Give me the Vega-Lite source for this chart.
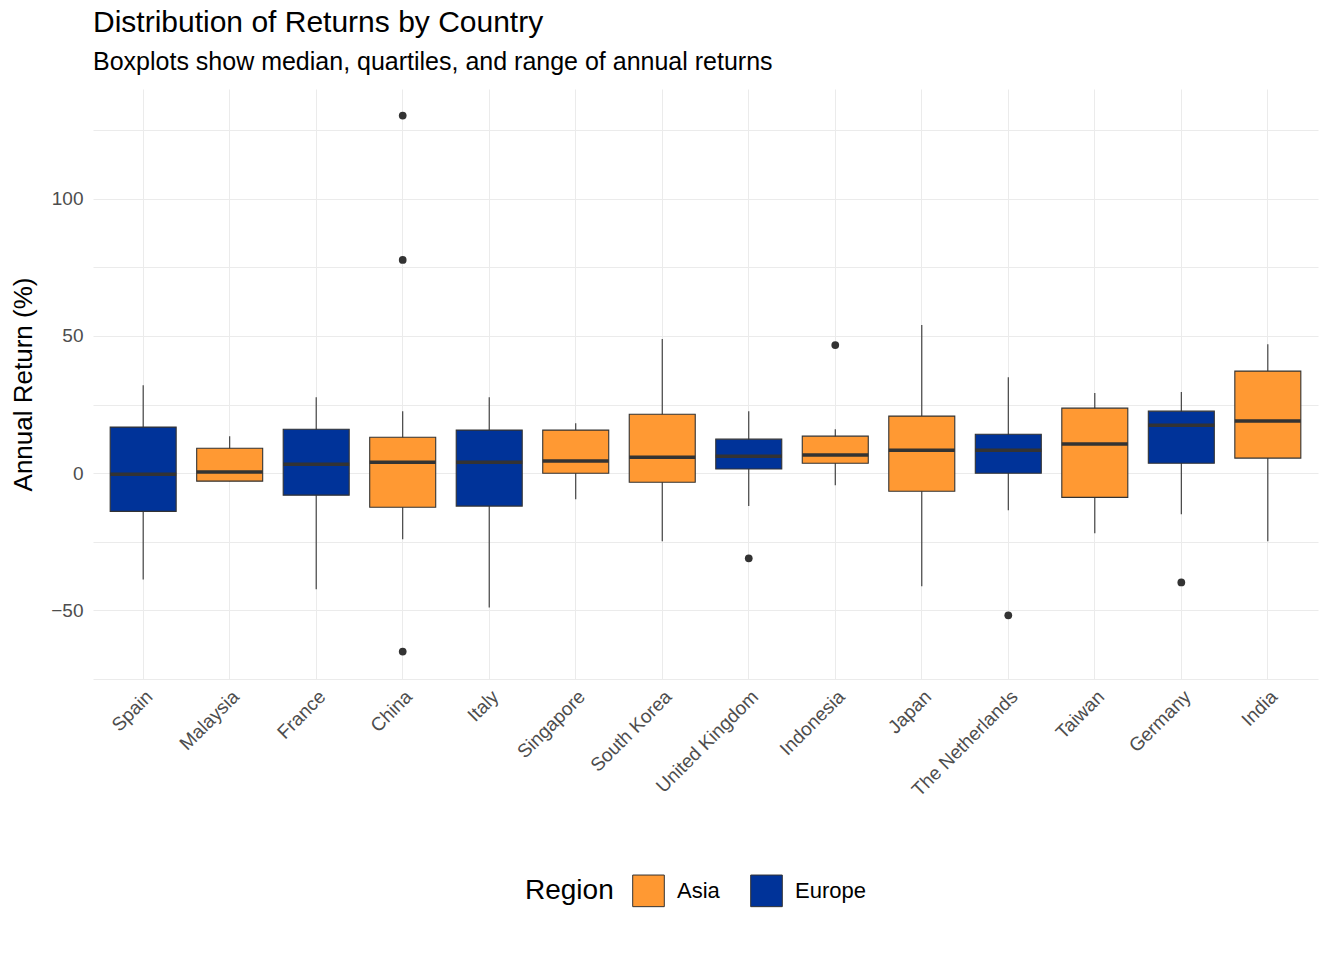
{
  "$schema": "https://vega.github.io/schema/vega-lite/v6.json",
  "width": 1225,
  "height": 590,
  "padding": {"left": 10, "top": 8, "right": 14, "bottom": 10},
  "background": "white",
  "config": {
    "font": "Liberation Sans",
    "view": {"stroke": null},
    "axis": {"domain": false, "ticks": false, "gridColor": "#EBEBEB", "labelColor": "#4D4D4D", "labelFontSize": 19, "titleFontWeight": "normal", "titleColor": "black", "titleFontSize": 26}
  },
  "title": {
    "text": "Distribution of Returns by Country",
    "subtitle": "Boxplots show median, quartiles, and range of annual returns",
    "anchor": "start", "frame": "group", "fontSize": 30, "fontWeight": "normal",
    "subtitleFontSize": 25, "subtitleColor": "black", "subtitlePadding": 12, "offset": 14
  },
  "datasets": {
    "stats": [
      {"country": "Spain", "region": "Europe", "lo": -38.7, "q1": -13.9, "med": -0.4, "q3": 16.8, "hi": 32},
      {"country": "Malaysia", "region": "Asia", "lo": -2.9, "q1": -2.9, "med": 0.4, "q3": 9.1, "hi": 13.5},
      {"country": "France", "region": "Europe", "lo": -42.3, "q1": -8, "med": 3.3, "q3": 16, "hi": 27.7},
      {"country": "China", "region": "Asia", "lo": -24.1, "q1": -12.4, "med": 4, "q3": 13.1, "hi": 22.6},
      {"country": "Italy", "region": "Europe", "lo": -48.9, "q1": -12, "med": 4, "q3": 15.7, "hi": 27.7},
      {"country": "Singapore", "region": "Asia", "lo": -9.5, "q1": 0, "med": 4.4, "q3": 15.7, "hi": 18.2},
      {"country": "South Korea", "region": "Asia", "lo": -24.8, "q1": -3.3, "med": 5.8, "q3": 21.5, "hi": 48.9},
      {"country": "United Kingdom", "region": "Europe", "lo": -12, "q1": 1.5, "med": 6.2, "q3": 12.4, "hi": 22.6},
      {"country": "Indonesia", "region": "Asia", "lo": -4.4, "q1": 3.6, "med": 6.6, "q3": 13.5, "hi": 16},
      {"country": "Japan", "region": "Asia", "lo": -41.2, "q1": -6.6, "med": 8.4, "q3": 20.8, "hi": 54},
      {"country": "The Netherlands", "region": "Europe", "lo": -13.5, "q1": 0, "med": 8.4, "q3": 14.2, "hi": 35},
      {"country": "Taiwan", "region": "Asia", "lo": -21.9, "q1": -8.8, "med": 10.6, "q3": 23.7, "hi": 29.2},
      {"country": "Germany", "region": "Europe", "lo": -15, "q1": 3.6, "med": 17.5, "q3": 22.6, "hi": 29.6},
      {"country": "India", "region": "Asia", "lo": -24.8, "q1": 5.5, "med": 19, "q3": 37.2, "hi": 47}
    ],
    "outliers": [
      {"country": "China", "value": 130.3},
      {"country": "China", "value": 77.7},
      {"country": "China", "value": -65},
      {"country": "United Kingdom", "value": -31},
      {"country": "Indonesia", "value": 46.7},
      {"country": "The Netherlands", "value": -51.8},
      {"country": "Germany", "value": -39.8}
    ]
  },
  "encoding": {
    "x": {
      "field": "country", "type": "nominal", "title": null,
      "sort": ["Spain", "Malaysia", "France", "China", "Italy", "Singapore", "South Korea", "United Kingdom", "Indonesia", "Japan", "The Netherlands", "Taiwan", "Germany", "India"],
      "scale": {"paddingInner": 0, "paddingOuter": 0.08},
      "axis": {"labelAngle": -45, "grid": true, "bandPosition": 0.5, "labelPadding": 8}
    }
  },
  "layer": [
    {
      "data": {"name": "stats"},
      "mark": {"type": "rule", "color": "#333333", "strokeWidth": 1.1},
      "encoding": {
        "y": {"field": "lo", "type": "quantitative", "title": "Annual Return (%)",
          "scale": {"domain": [-75, 140], "nice": false, "zero": false},
          "axis": {"values": [-75, -50, -25, 0, 25, 50, 75, 100, 125], "labelExpr": "datum.value % 50 == 0 ? datum.label : ''", "labelPadding": 10, "titlePadding": 14}},
        "y2": {"field": "hi"}
      }
    },
    {
      "data": {"name": "stats"},
      "mark": {"type": "bar", "size": 66, "stroke": "#333333", "strokeWidth": 1.1},
      "encoding": {
        "y": {"field": "q1", "type": "quantitative"},
        "y2": {"field": "q3"},
        "color": {"field": "region", "type": "nominal", "title": "Region",
          "scale": {"domain": ["Asia", "Europe"], "range": ["#FF9933", "#003399"]},
          "legend": {"orient": "none", "legendX": 432, "legendY": 785, "direction": "horizontal", "titleOrient": "left", "titleFontSize": 28, "titleFontWeight": "normal", "titleColor": "black", "labelFontSize": 22, "labelColor": "black", "symbolType": "square", "symbolSize": 1000, "symbolStrokeColor": "#333333", "symbolStrokeWidth": 1, "symbolOpacity": 1, "columnPadding": 28, "labelOffset": 12, "titlePadding": 18}}
      }
    },
    {
      "data": {"name": "stats"},
      "mark": {"type": "tick", "size": 66, "thickness": 3.5, "color": "#333333", "opacity": 1},
      "encoding": {"y": {"field": "med", "type": "quantitative"}}
    },
    {
      "data": {"name": "outliers"},
      "mark": {"type": "circle", "size": 60, "color": "#333333", "opacity": 1},
      "encoding": {"y": {"field": "value", "type": "quantitative"}}
    }
  ]
}
